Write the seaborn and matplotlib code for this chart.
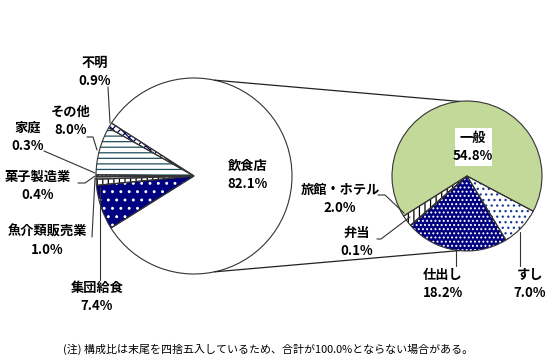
import matplotlib
matplotlib.use("Agg")
import matplotlib.pyplot as plt
import seaborn as sns
import numpy as np

# ---- data ----
left_labels = ["飲食店", "不明", "その他", "家庭", "菓子製造業", "魚介類販売業", "集団給食"]
left_values = [82.1, 0.9, 8.0, 0.3, 0.4, 1.0, 7.4]
right_labels = ["一般", "旅館・ホテル", "弁当", "仕出し", "すし"]
right_values = [54.8, 2.0, 0.1, 18.2, 7.0]
note = "(注) 構成比は末尾を四捨五入しているため、合計が100.0%とならない場合がある。"

sns.set_theme(style="white")
plt.rcParams['font.family'] = ['Noto Sans CJK JP', 'DejaVu Sans']
plt.rcParams['hatch.linewidth'] = 0.9

W, H = 550, 364
fig = plt.figure(figsize=(5.5, 3.64), dpi=100)
ax = fig.add_axes([0, 0, 1, 1])

def Y(y):
    return H - y

LC, LR = (194, Y(176)), 98
RC, RR = (467, Y(176)), 75

left_fc = ["white", "white", "white", "white", "#bfbfbf", "white", "#000080"]
left_hc = ["white", "#000060", "#1f4f5f", "#000000", "#404040", "#000000", "white"]
left_hatch = [None, "xxxx", "---", "||||", "", "|||", ".."]

right_fc = ["#c2d99a", "white", "white", "#000080", "white"]
right_hc = ["#c2d99a", "#000000", "#000000", "white", "#1a3a9a"]
right_hatch = [None, "|||", "|||", "....", "..."]

def draw_pie(values, center, radius, fcs, hcs, hatches, start):
    wedges, _ = ax.pie(values, center=center, radius=radius, startangle=start,
                       counterclock=True, colors=fcs, frame=True,
                       wedgeprops=dict(linewidth=0))
    for w, hc, h in zip(wedges, hcs, hatches):
        w.set_edgecolor(hc)
        if h:
            w.set_hatch(h)
    ax.pie(values, center=center, radius=radius, startangle=start,
           counterclock=True, frame=True,
           wedgeprops=dict(facecolor='none', edgecolor='#333333', linewidth=0.8))

draw_pie(left_values, LC, LR, left_fc, left_hc, left_hatch, -147.78 * 100.1 / 100)
draw_pie(right_values, RC, RR, right_fc, right_hc, right_hatch, -28)
ax.set_xlim(0, W)
ax.set_ylim(0, H)
ax.set_aspect('equal')
ax.axis('off')

# connector lines
a = np.deg2rad(78)
b = np.deg2rad(96)
for s in (1, -1):
    x0 = LC[0] + LR * np.cos(a)
    y0 = LC[1] + s * LR * np.sin(a)
    x1 = RC[0] + RR * np.cos(b)
    y1 = RC[1] + s * RR * np.sin(b)
    ax.plot([x0, x1], [y0, y1], color='#222222', lw=0.9)

fs = 9.5
def label(x, y, name, pct, z=5):
    kw = dict(ha='center', va='center', fontsize=fs, fontweight='bold', color='black', zorder=z)
    ax.text(x, Y(y), name, **kw)
    ax.text(x, Y(y + 18), pct, **kw)

def leader(pts):
    xs = [p[0] for p in pts]
    ys = [Y(p[1]) for p in pts]
    ax.plot(xs, ys, color='#333333', lw=0.8)

vals = dict(zip(left_labels, left_values))
vals.update(dict(zip(right_labels, right_values)))
fmt = lambda k: f"{vals[k]:.1f}%"

label(95, 63, "不明", fmt("不明"))
leader([(108, 87), (110, 123)])
label(71, 112, "その他", fmt("その他"))
leader([(87, 137), (93, 137), (97, 150)])
label(28, 128, "家庭", fmt("家庭"))
leader([(44, 151), (95, 173)])
label(38, 177, "菓子製造業", fmt("菓子製造業"))
leader([(78, 183), (85, 183), (95, 176)])
label(47, 232, "魚介類販売業", fmt("魚介類販売業"))
leader([(92, 237), (95, 178)])
label(97, 288, "集団給食", fmt("集団給食"))
leader([(100, 280), (100, 187)])
label(248, 166, "飲食店", fmt("飲食店"))

# right labels
ax.add_patch(plt.Rectangle((455, Y(166)), 37, 38, facecolor='white',
                           edgecolor='none', zorder=10))
label(473, 138, "一般", fmt("一般"), z=11)
label(340, 190, "旅館・ホテル", fmt("旅館・ホテル"))
leader([(378, 195), (385, 195), (404, 213)])
label(357, 233, "弁当", fmt("弁当"))
leader([(377, 239), (381, 239), (410, 217)])
label(443, 275, "仕出し", fmt("仕出し"))
leader([(456, 266), (456, 249)])
label(530, 275, "すし", fmt("すし"))
leader([(520, 266), (520, 232)])

ax.text(63, Y(349), note, ha='left', va='center', fontsize=7.9, color='black')

fig.savefig("out.png", dpi=100)
